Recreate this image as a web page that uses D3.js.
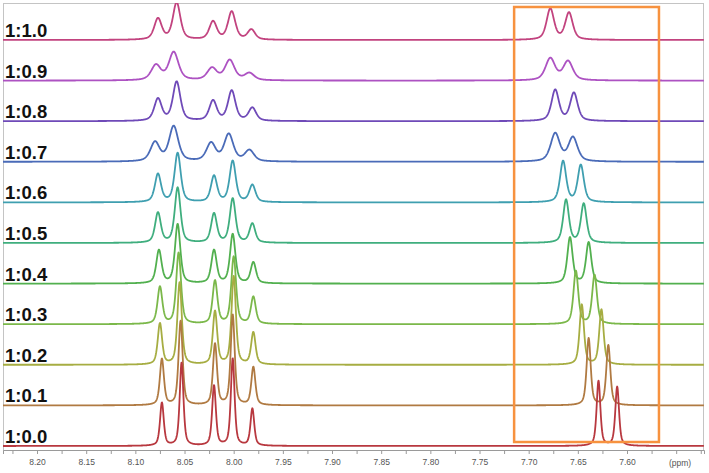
<!DOCTYPE html>
<html>
<head>
<meta charset="utf-8">
<script src="https://cdn.jsdelivr.net/npm/d3@7"></script>
<style>
  html, body { margin: 0; padding: 0; background: #ffffff; }
  svg { display: block; }
</style>
</head>
<body>
<svg id="chart" width="709" height="473"></svg>
<script>
// ---- data ----
const traceLabels = ["1:0.0","1:0.1","1:0.2","1:0.3","1:0.4","1:0.5","1:0.6","1:0.7","1:0.8","1:0.9","1:1.0"];
const traceColors = ["#b8383f","#b07a42","#a6ad42","#7bb84a","#52b04f","#3fae7e","#3f9fb0","#4a6bb8","#6f4ab8","#ad52c2","#c2437f"];
// chemical shifts (ppm) of the 7 resolved lines of each trace
const peakShifts = [
  [8.073, 8.053, 8.020, 8.001, 7.981, 7.629, 7.610],
  [8.073, 8.054, 8.019, 8.001, 7.980, 7.639, 7.619],
  [8.075, 8.055, 8.019, 8.000, 7.980, 7.646, 7.626],
  [8.075, 8.056, 8.019, 8.000, 7.980, 7.652, 7.633],
  [8.076, 8.057, 8.020, 8.001, 7.980, 7.658, 7.639],
  [8.077, 8.057, 8.020, 8.001, 7.981, 7.662, 7.644],
  [8.077, 8.057, 8.020, 8.001, 7.981, 7.665, 7.647],
  [8.080, 8.061, 8.023, 8.005, 7.984, 7.673, 7.655],
  [8.077, 8.058, 8.021, 8.002, 7.981, 7.673, 7.654],
  [8.079, 8.061, 8.022, 8.004, 7.984, 7.678, 7.660],
  [8.077, 8.058, 8.021, 8.002, 7.982, 7.678, 7.659]
];
// peak intensities (arbitrary units)
const peakHeights = [
  [43, 83, 60, 87, 37, 65, 59],
  [46, 84, 61, 90, 38, 67, 60],
  [41, 82, 53, 88, 32, 60, 55],
  [37, 71, 43, 67, 27, 53, 49],
  [33, 59, 33, 49, 21, 46, 41],
  [30, 55, 29, 44, 19, 43, 39],
  [28, 49, 26, 41, 17, 41, 37],
  [19, 35, 18, 27, 11, 28, 24],
  [22, 39, 20, 30, 13, 31, 28],
  [15, 28, 12, 20, 7, 22, 19],
  [21, 37, 18, 28, 10, 31, 27]
];
// line widths (FWHM, ppm) of each trace
const lineWidths = [0.0045, 0.0049, 0.0053, 0.0058, 0.0064, 0.0069, 0.0074, 0.0110, 0.0090, 0.0115, 0.0090];
// Lorentzian fraction of the pseudo-Voigt line shape
const lorentzFraction = 0.55;
const xTickValues = [8.20, 8.15, 8.10, 8.05, 8.00, 7.95, 7.90, 7.85, 7.80, 7.75, 7.70, 7.65, 7.60];
const xTickLabels = ["8.20","8.15","8.10","8.05","8.00","7.95","7.90","7.85","7.80","7.75","7.70","7.65","7.60"];
const axisUnit = "(ppm)";
const highlightRange = [7.7148, 7.5675];   // ppm span of the orange box

// ---- layout ----
const svg = d3.select("#chart");
const frame = { left: 3, right: 704, top: 3, bottom: 450 };

const x = d3.scaleLinear().domain([8.2346, 7.5217]).range([frame.left, frame.right]);
const baseY = d3.scalePoint().domain(traceLabels).range([446, 40]);
const amp = d3.scaleLinear().domain([0, 100]).range([0, 100]);

// clip
svg.append("defs").append("clipPath").attr("id", "plotclip")
  .append("rect").attr("x", frame.left).attr("y", frame.top)
  .attr("width", frame.right - frame.left).attr("height", frame.bottom - frame.top);

// frame
svg.append("rect")
  .attr("x", frame.left + 0.5).attr("y", frame.top + 0.5)
  .attr("width", frame.right - frame.left - 1).attr("height", frame.bottom - frame.top)
  .attr("fill", "none").attr("stroke", "#c4c4c4").attr("stroke-width", 1);

// lineshape sampling
const [d0, d1] = x.domain();
const step = 0.0003;
const samples = d3.range(d0, d1, -step);
const LN2x4 = 4 * Math.log(2);

function spectrum(i) {
  const fw = lineWidths[i];
  const eta = lorentzFraction;
  return samples.map(p => {
    let v = 0;
    peakShifts[i].forEach((s, k) => {
      const t = (p - s) / fw;
      const L = 1 / (1 + 4 * t * t);
      const G = Math.exp(-LN2x4 * t * t);
      v += peakHeights[i][k] * (eta * L + (1 - eta) * G);
    });
    return [p, v];
  });
}

const plot = svg.append("g").attr("clip-path", "url(#plotclip)");

for (let i = traceLabels.length - 1; i >= 0; i--) {
  const y0 = baseY(traceLabels[i]);
  const line = d3.line()
    .x(d => x(d[0]))
    .y(d => y0 - amp(d[1]))
    .curve(d3.curveLinear);
  plot.append("path")
    .datum(spectrum(i))
    .attr("d", line)
    .attr("fill", "none")
    .attr("stroke", traceColors[i])
    .attr("stroke-width", 1.8)
    .attr("stroke-linejoin", "round");
}

// trace labels
traceLabels.forEach((lab, i) => {
  svg.append("text")
    .attr("x", 5)
    .attr("y", baseY(lab) - 3)
    .attr("font-family", "Liberation Sans, Arial, sans-serif")
    .attr("font-weight", "bold")
    .attr("font-size", 18.5)
    .attr("fill", "#111")
    .text(lab);
});

// highlight box
svg.append("rect")
  .attr("x", x(highlightRange[0])).attr("y", 7)
  .attr("width", x(highlightRange[1]) - x(highlightRange[0]))
  .attr("height", 442 - 7)
  .attr("fill", "none").attr("stroke", "#f7923f").attr("stroke-width", 2.5);

// x axis
const minorTicks = d3.range(8.225, 7.52, -0.025);
const axis = d3.axisBottom(x)
  .tickValues(minorTicks)
  .tickSize(4)
  .tickFormat("");
const gAxis = svg.append("g").attr("transform", `translate(0,${frame.bottom})`).call(axis);
gAxis.select(".domain").attr("stroke", "#9a9a9a");
gAxis.selectAll(".tick line").attr("stroke", "#9a9a9a");

const labAxis = d3.axisBottom(x)
  .tickValues(xTickValues)
  .tickSize(0)
  .tickPadding(9)
  .tickFormat((d, k) => xTickLabels[k]);
const gLab = svg.append("g").attr("transform", `translate(0,${frame.bottom})`).call(labAxis);
gLab.select(".domain").remove();
gLab.selectAll(".tick text")
  .attr("font-family", "Liberation Sans, Arial, sans-serif")
  .attr("font-size", 8.5)
  .attr("fill", "#555");

svg.append("text")
  .attr("x", 680).attr("y", 466)
  .attr("text-anchor", "middle")
  .attr("font-family", "Liberation Sans, Arial, sans-serif")
  .attr("font-size", 8.5)
  .attr("fill", "#555")
  .text(axisUnit);
</script>
</body>
</html>
